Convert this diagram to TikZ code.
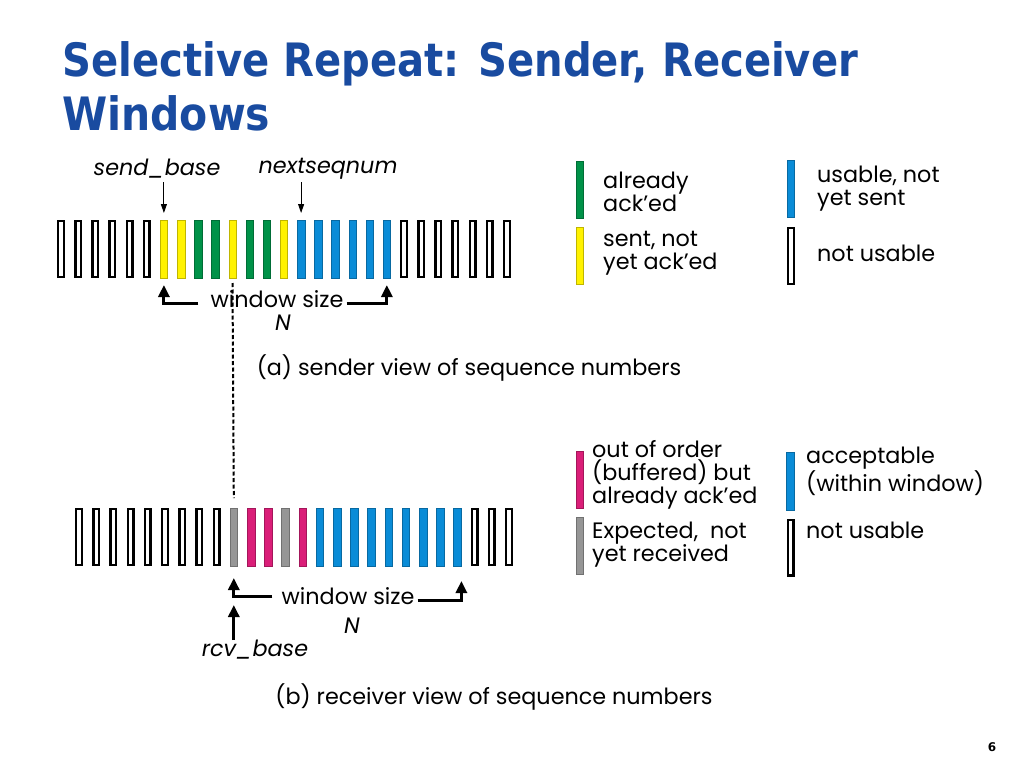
\documentclass[tikz,border=0pt]{standalone}
\usepackage{fontspec}
\usepackage{graphicx}
\setmainfont{Poppins}
\newfontfamily\titlefont{DejaVu Sans}
\usetikzlibrary{arrows.meta,calc}
\definecolor{titleblue}{RGB}{25,75,160}
\definecolor{cY}{RGB}{255,242,0}
\definecolor{cG}{RGB}{0,146,72}
\definecolor{cB}{RGB}{10,140,215}
\definecolor{cM}{RGB}{218,30,120}
\definecolor{cE}{RGB}{150,150,150}
\tikzset{
  barN/.style={draw=black, line width=2.4pt, fill=white, minimum width=5.6pt, minimum height=55.6pt, inner sep=0pt},
  cbar/.style={draw=#1!75!black, line width=0.5pt, fill=#1, minimum width=7.5pt, minimum height=57.5pt, inner sep=0pt},
  barY/.style={cbar=cY},
  barG/.style={cbar=cG},
  barB/.style={cbar=cB},
  barM/.style={cbar=cM},
  barE/.style={cbar=cE},
  txt/.style={inner sep=0pt, font=\fontsize{22.3}{23}\selectfont},
  itxt/.style={txt, font=\fontsize{22.3}{23}\selectfont\itshape},
  legtxt/.style={txt, anchor=west, align=left},
  sarrow/.style={-{Triangle[width=6pt,length=9pt]}, line width=0.9pt},
  warrow/.style={-{Triangle[width=11pt,length=12pt]}, line width=3pt},
  dline/.style={line width=2pt, dash pattern=on 4pt off 2.5pt},
  titletxt/.style={anchor=base west, inner sep=0pt, text=titleblue, font=\titlefont\bfseries\fontsize{46}{53}\selectfont}
}
\begin{document}
\begin{tikzpicture}[x=1pt,y=-1pt]
\useasboundingbox (0,0) rectangle (1024,768);
% title
\node[titletxt] (title1) at (62,77) {\resizebox{796pt}{\height}{Selective Repeat: Sender, Receiver}};
\node[titletxt] (title2) at (62,130) {\resizebox{208pt}{\height}{Windows}};
\node[inner sep=0pt, font=\titlefont\bfseries\fontsize{12}{14}\selectfont] (page) at (992,747) {6};

% sender row
\foreach \c [count=\i from 0] in {N,N,N,N,N,N,Y,Y,G,G,Y,G,G,Y,B,B,B,B,B,B,N,N,N,N,N,N,N}
  \node[bar\c] (t\i) at ({61+17.15*\i},249) {};
% receiver row
\foreach \c [count=\i from 0] in {N,N,N,N,N,N,N,N,N,E,M,M,E,M,B,B,B,B,B,B,B,B,B,N,N,N}
  \node[bar\c] (b\i) at ({79+17.2*\i},537) {};

% sender labels
\node[itxt] (sendbase) at (157,169) {send\_base};
\node[itxt] (nextseq) at (328,169) {nextseqnum};
\draw[sarrow] (t6.north |- 0,182) -- ([yshift=7pt]t6.north);
\draw[sarrow] (t14.north |- 0,182) -- ([yshift=7pt]t14.north);
\node[txt] (ws1) at (277,299) {window size};
\node[itxt] (n1) at (283,323) {N};
\draw[warrow] ([xshift=-12pt,yshift=-4pt]ws1.west) -| ([yshift=-7pt]t6.south);
\draw[warrow] ([xshift=3pt,yshift=-4pt]ws1.east) -| ([yshift=-7pt]t19.south);
\node[txt] (capa) at (469,368) {(a) sender view of sequence numbers};

% receiver labels
\node[txt] (ws2) at (348,596) {window size};
\node[itxt] (n2) at (352,626) {N};
\draw[warrow] ([xshift=-9pt]ws2.west) -| ([yshift=-12pt]b9.south);
\draw[warrow] ([xshift=3pt,yshift=-4pt]ws2.east) -| ([xshift=4pt,yshift=-15pt]b22.south);
\node[itxt] (rcvbase) at (255,650) {rcv\_base};
\draw[warrow] (rcvbase.north -| b9.south) -- ([yshift=-39pt]b9.south);
\node[txt] (capb) at (494,697) {(b) receiver view of sequence numbers};

% dashed link
\draw[dline] ([yshift=-5pt]t10.south) -- ([yshift=10pt]b9.north);

% sender legend
\node[barG] (lg1) at (579.5,189.5) {};
\node[legtxt] (lt1) at (603,191.5) {already\\ack’ed};
\node[barY] (lg2) at (579.5,255.5) {};
\node[legtxt] (lt2) at (603,253.5) {sent, not\\yet ack’ed};
\node[barB] (lg3) at (790.5,188.5) {};
\node[legtxt] (lt3) at (817,188.5) {usable, not\\yet sent};
\node[barN] (lg4) at (791,256) {};
\node[legtxt] (lt4) at (817,253) {not usable};

% receiver legend
\node[barM] (lr1) at (579.5,479.5) {};
\node[legtxt] (rt1) at (592,474.5) {out of order\\(buffered) but\\already ack’ed};
\node[barE] (lr2) at (579.5,545.5) {};
\node[legtxt] (rt2) at (592,544.5) {Expected,~ not\\yet received};
\node[barB] (lr3) at (790,481) {};
\node[legtxt] (rt3) at (806,471.5) {acceptable\\(within window)};
\node[barN] (lr4) at (790.5,547.5) {};
\node[legtxt] (rt4) at (806,530) {not usable};
\end{tikzpicture}
\end{document}
